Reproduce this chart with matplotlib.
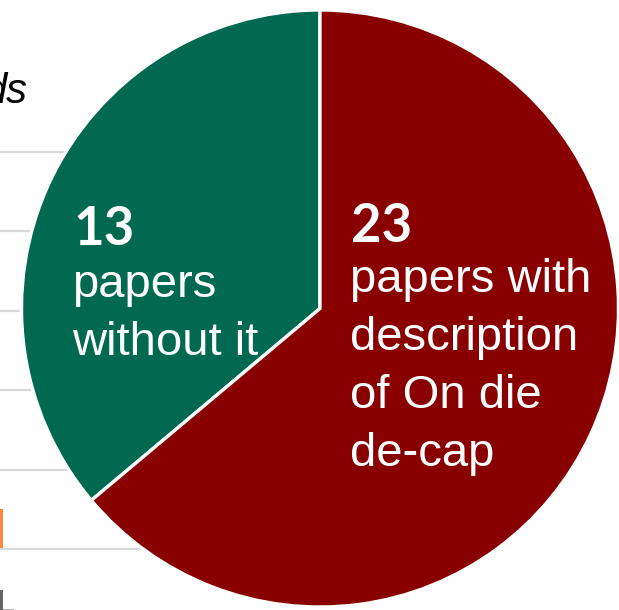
import matplotlib
matplotlib.use("Agg")
import matplotlib.pyplot as plt

# data
labels = ["papers\nwithout it", "papers with\ndescription\nof On die\nde-cap"]
counts = [13, 23]
colors = ["#00694F", "#890000"]

# faint pieces of the neighbouring chart on the left
grid_y = [152, 231, 311, 390, 470, 549]
bar_height = [39]

W, H = 619, 610
fig = plt.figure(figsize=(W / 100, H / 100), dpi=100)
ax = fig.add_axes([0, 0, 1, 1])

# background grid lines (image coords -> flipped y)
for gy in grid_y:
    ax.plot([0, 230], [H - gy, H - gy], color="#D9D9D9", lw=1.6, zorder=0)
ax.bar([1.5], bar_height, width=3, bottom=H - 548, color="#F58A3C", zorder=0)
ax.text(28, H - 103, "ds", fontsize=30, style="italic", family="Liberation Sans",
        ha="right", va="baseline", color="black", zorder=0)
ax.text(-3, H - 612, "L", fontsize=22, family="DejaVu Sans", color="#666666",
        ha="left", va="baseline", zorder=0)

wedges, _ = ax.pie(counts, colors=colors, startangle=90, counterclock=True,
                   center=(320, H - 308.5), radius=298.5,
                   wedgeprops=dict(edgecolor="white", linewidth=2.4))
for w in wedges:
    w.set_zorder(2)

ax.set_xlim(0, W)
ax.set_ylim(0, H)
ax.set_aspect("equal")
ax.axis("off")

# labels
pos = [(72, 245, 297), (350, 242, 292)]
spacing = 58
for (x, ynum, ytxt), n, lab in zip(pos, counts, labels):
    ax.text(x + 1, H - ynum, str(n), fontsize=38, fontweight="bold", family="Lato",
            color="white", ha="left", va="baseline", zorder=3)
    for i, line in enumerate(lab.split("\n")):
        ax.text(x, H - ytxt - i * spacing, line, fontsize=34, family="Liberation Sans",
                color="white", ha="left", va="baseline", zorder=3)

fig.savefig("out.png", dpi=100)
